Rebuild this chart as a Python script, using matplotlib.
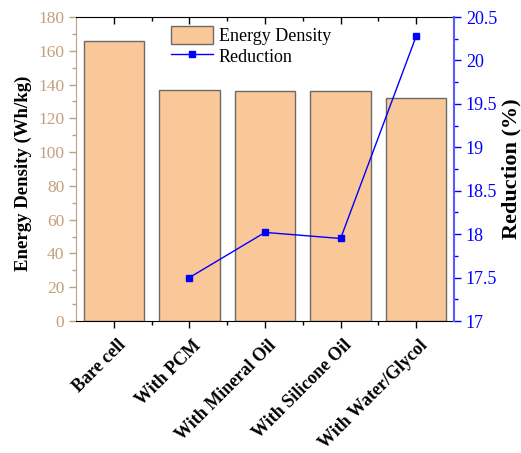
import numpy as np
import matplotlib
matplotlib.use("Agg")
import matplotlib.pyplot as plt
import matplotlib.transforms as mtransforms
from matplotlib.ticker import MultipleLocator, FixedLocator

# data
categories = ["Bare cell", "With PCM", "With Mineral Oil", "With Silicone Oil", "With Water/Glycol"]
energy_density = [166, 137, 136, 136, 132]
reduction_cats = ["With PCM", "With Mineral Oil", "With Silicone Oil", "With Water/Glycol"]
reduction = [17.5, 18.02, 17.95, 20.28]

plt.rcParams["font.family"] = ["Liberation Serif", "DejaVu Serif"]

tan = "#C4A07E"
blue = "#0000FF"

fig = plt.figure(figsize=(5.21, 4.53), dpi=100)
ax = fig.add_axes([76 / 521, 1 - 321 / 453, 378 / 521, 304 / 453])

x = np.arange(len(categories))
bars = ax.bar(x, energy_density, width=0.8, color="#FAC898", edgecolor="#6a6a6a",
              linewidth=1.0, label="Energy Density", zorder=2)
ax.set_xlim(-0.5, len(categories) - 0.5)
ax.set_ylim(0, 180)
ax.yaxis.set_major_locator(MultipleLocator(20))
ax.yaxis.set_minor_locator(MultipleLocator(10))
ax.xaxis.set_major_locator(FixedLocator(x))
ax.xaxis.set_minor_locator(FixedLocator(x[:-1] + 0.5))
ax.set_xticklabels(categories, rotation=45, ha="right", rotation_mode="anchor",
                   fontsize=13, fontweight="bold")

ax.tick_params(axis="x", which="major", direction="out", length=5, width=1, top=True)
ax.tick_params(axis="x", which="minor", direction="out", length=3, width=1, top=True)
ax.tick_params(axis="y", which="major", direction="out", length=5, width=1,
               colors=tan, labelsize=12.5)
ax.tick_params(axis="y", which="minor", direction="out", length=3, width=1, colors=tan)
ax.spines["left"].set_color(tan)
ax.spines["right"].set_visible(False)
ax.set_ylabel("Energy Density (Wh/kg)", fontsize=13.5, fontweight="bold")
ax.yaxis.set_label_coords(-0.116, 0.485)

# nudge rotated labels to sit like the reference (after tick_params, which resets transforms)
shift = mtransforms.ScaledTranslation(3 / 100, -4 / 100, fig.dpi_scale_trans)
for lbl in ax.get_xticklabels():
    lbl.set_transform(lbl.get_transform() + shift)

# top ticks pointing into the plot
for t in ax.xaxis.get_major_ticks() + ax.xaxis.get_minor_ticks():
    t.tick2line.set_marker(3)

ax2 = ax.twinx()
rx = [categories.index(c) for c in reduction_cats]
line, = ax2.plot(rx, reduction, color=blue, linewidth=1.0, marker="s", markersize=4.5,
                 label="Reduction", zorder=3)
ax2.set_ylim(17, 20.5)
ax2.yaxis.set_major_locator(MultipleLocator(0.5))
ax2.yaxis.set_minor_locator(MultipleLocator(0.25))
ax2.yaxis.set_major_formatter(plt.FuncFormatter(lambda v, p: f"{v:g}"))
ax2.tick_params(axis="y", which="major", direction="out", length=5, width=1,
                colors=blue, labelsize=13)
ax2.tick_params(axis="y", which="minor", direction="out", length=3, width=1, colors=blue)
ax2.spines["right"].set_color("#5a5aFF")
ax2.spines["right"].set_linewidth(1.5)
ax2.spines["left"].set_visible(False)
ax2.spines["top"].set_visible(False)
ax2.spines["bottom"].set_visible(False)
ax2.set_ylabel("Reduction (%)", fontsize=16, fontweight="bold", labelpad=3)

ax.legend([bars, line], ["Energy Density", "Reduction"], loc="upper left",
          bbox_to_anchor=(0.251, 0.972), frameon=False, fontsize=13,
          handlelength=2.35, handleheight=1.2, handletextpad=0.3,
          borderpad=0, borderaxespad=0, labelspacing=0.1)

fig.savefig("out.png", dpi=100)
